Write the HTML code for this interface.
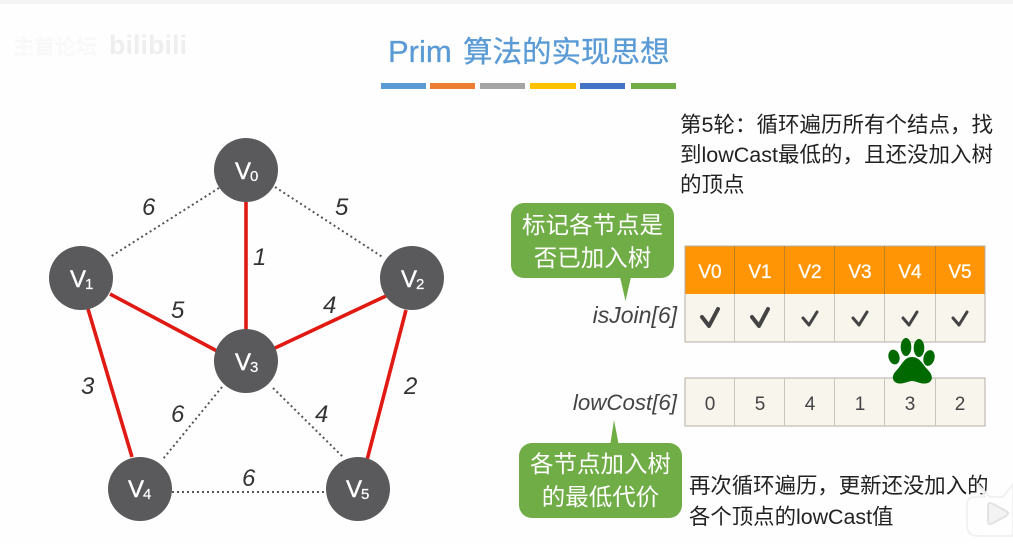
<!DOCTYPE html>
<html><head><meta charset="utf-8">
<style>
html,body{margin:0;padding:0;background:#fefefe;width:1013px;height:544px;overflow:hidden}
svg{display:block;font-family:"Liberation Sans","Noto Sans CJK SC",sans-serif;filter:blur(.35px)}
.n{fill:#fff;font-size:24px;stroke:#fff;stroke-width:.4px}
.s{fill:#fff;font-size:15px;stroke:#fff;stroke-width:.2px}
.w{font-style:italic;font-size:24px;fill:#333}
.h{fill:#fff;font-size:19px;text-anchor:middle;stroke:#fff;stroke-width:.3px}
.c{fill:#444;font-size:19px;text-anchor:middle}
.t{fill:#222;font-size:21.500px}
.b{fill:#fff;font-size:23.500px;text-anchor:middle}
.l{font-style:italic;fill:#444;text-anchor:end}
.chk{fill:none;stroke:#444;stroke-linecap:round;stroke-linejoin:round}
</style></head><body>
<svg width="1013" height="544" viewBox="0 0 1013 544" xmlns="http://www.w3.org/2000/svg">
<rect width="1013" height="544" fill="#fefefe"/>
<rect width="1013" height="4" fill="#f4f4f5"/>
<text x="13" y="54" font-size="21" fill="#fbfbfb" stroke="#f3f3f3" stroke-width=".4">主首论坛</text>
<text x="109" y="54" font-size="27" font-weight="bold" fill="#eeeeee" textLength="78" lengthAdjust="spacingAndGlyphs">bilibili</text>

<text x="388" y="62" font-size="31" fill="#5b9bd5" stroke="#5b9bd5" stroke-width=".3">Prim</text>
<text x="463" y="62" font-size="29.500" fill="#5b9bd5" stroke="#5b9bd5" stroke-width=".3">算法的实现思想</text>
<g>
<rect x="381" y="83" width="45" height="6" fill="#5b9bd5"/>
<rect x="430" y="83" width="45" height="6" fill="#ed7d31"/>
<rect x="480" y="83" width="45" height="6" fill="#a5a5a5"/>
<rect x="530" y="83" width="46" height="6" fill="#ffc000"/>
<rect x="580" y="83" width="45" height="6" fill="#4472c4"/>
<rect x="631" y="83" width="45" height="6" fill="#70ad47"/>
</g>

<g stroke="#555" stroke-width="2" stroke-dasharray="2 3" fill="none">
<line x1="219" y1="188" x2="110" y2="257"/>
<line x1="275" y1="187" x2="384" y2="258"/>
<line x1="222" y1="387" x2="163" y2="459"/>
<line x1="273" y1="388" x2="344" y2="458"/>
<line x1="172" y1="492" x2="326" y2="492"/>
</g>
<g stroke="#e01a12" stroke-width="3.600" fill="none">
<line x1="246" y1="202" x2="246" y2="329"/>
<line x1="110" y1="294" x2="217" y2="351"/>
<line x1="275" y1="348" x2="386" y2="296"/>
<line x1="88" y1="309" x2="132" y2="457"/>
<line x1="406" y1="310" x2="367" y2="460"/>
</g>
<g fill="#5a5a5c">
<circle cx="246" cy="170" r="32"/>
<circle cx="81" cy="278" r="32"/>
<circle cx="412" cy="278" r="32"/>
<circle cx="246" cy="361" r="32"/>
<circle cx="140" cy="489" r="32"/>
<circle cx="358" cy="489" r="32"/>
</g>
<text class="n" x="235" y="179">V</text><text class="s" x="250" y="181">0</text>
<text class="n" x="70" y="287">V</text><text class="s" x="85" y="289">1</text>
<text class="n" x="401" y="287">V</text><text class="s" x="416" y="289">2</text>
<text class="n" x="235" y="370">V</text><text class="s" x="250" y="372">3</text>
<text class="n" x="128" y="497">V</text><text class="s" x="143" y="499">4</text>
<text class="n" x="346" y="497">V</text><text class="s" x="361" y="499">5</text>

<text class="w" x="142" y="215">6</text>
<text class="w" x="335" y="215">5</text>
<text class="w" x="253" y="265">1</text>
<text class="w" x="171" y="318">5</text>
<text class="w" x="323" y="313">4</text>
<text class="w" x="81" y="394">3</text>
<text class="w" x="404" y="394">2</text>
<text class="w" x="171" y="422">6</text>
<text class="w" x="315" y="422">4</text>
<text class="w" x="242" y="486">6</text>

<text class="t" x="680" y="132">第5轮：循环遍历所有个结点，找</text>
<text class="t" x="680" y="162">到lowCast最低的，且还没加入树</text>
<text class="t" x="680" y="192">的顶点</text>

<rect x="511" y="203" width="163" height="75" rx="13" fill="#70ad47"/>
<polygon points="620,277 631,277 625.500,301" fill="#70ad47"/>
<text class="b" x="592.500" y="233">标记各节点是</text>
<text class="b" x="592.500" y="266">否已加入树</text>

<text class="l" x="677" y="323" font-size="23">isJoin[6]</text>
<text class="l" x="677" y="410" font-size="22.300">lowCost[6]</text>

<rect x="685" y="246" width="300" height="48" fill="#ff9505"/>
<rect x="685" y="294" width="300" height="48" fill="#f8f5ec"/>
<rect x="685" y="378" width="300" height="48" fill="#f8f5ec"/>
<g stroke="#b5b0a8" stroke-width="1" fill="none">
<rect x="685" y="246" width="300" height="96"/>
<rect x="685" y="378" width="300" height="48"/>
</g>
<g stroke="#c08020" stroke-width="1">
<line x1="734.500" y1="246" x2="734.500" y2="294"/><line x1="784.500" y1="246" x2="784.500" y2="294"/><line x1="834.500" y1="246" x2="834.500" y2="294"/><line x1="884.500" y1="246" x2="884.500" y2="294"/><line x1="935.500" y1="246" x2="935.500" y2="294"/>
</g>
<g stroke="#c8c5bd" stroke-width="1">
<line x1="734.500" y1="294" x2="734.500" y2="342"/><line x1="784.500" y1="294" x2="784.500" y2="342"/><line x1="834.500" y1="294" x2="834.500" y2="342"/><line x1="884.500" y1="294" x2="884.500" y2="342"/><line x1="935.500" y1="294" x2="935.500" y2="342"/>
<line x1="734.500" y1="378" x2="734.500" y2="426"/><line x1="784.500" y1="378" x2="784.500" y2="426"/><line x1="834.500" y1="378" x2="834.500" y2="426"/><line x1="884.500" y1="378" x2="884.500" y2="426"/><line x1="935.500" y1="378" x2="935.500" y2="426"/>
</g>
<text class="h" x="710" y="278">V0</text><text class="h" x="760" y="278">V1</text><text class="h" x="810" y="278">V2</text><text class="h" x="860" y="278">V3</text><text class="h" x="910" y="278">V4</text><text class="h" x="960" y="278">V5</text>

<path class="chk" stroke-width="4" d="M702 317 L709 326 L718 309"/>
<path class="chk" stroke-width="4" d="M752 317 L759 326 L768 309"/>
<path class="chk" stroke-width="3" d="M803 318 L809 325 L817 312"/>
<path class="chk" stroke-width="3" d="M853 318 L859 325 L867 312"/>
<path class="chk" stroke-width="3" d="M903 318 L909 325 L917 312"/>
<path class="chk" stroke-width="3" d="M953 318 L959 325 L967 312"/>

<text class="c" x="710" y="410">0</text><text class="c" x="760" y="410">5</text><text class="c" x="810" y="410">4</text><text class="c" x="860" y="410">1</text><text class="c" x="910" y="410">3</text><text class="c" x="960" y="410">2</text>

<g fill="#006a00">
<ellipse cx="894" cy="357" rx="5.500" ry="7.500" transform="rotate(-15 894 357)"/>
<ellipse cx="906" cy="347" rx="5.300" ry="9"/>
<ellipse cx="919" cy="348" rx="5.300" ry="9"/>
<ellipse cx="929" cy="358" rx="5.500" ry="8" transform="rotate(15 929 358)"/>
<path d="M912 357 C904 357 902 365 896 371 C890 377 893 384 901 383.500 C906 383 909 381 912 381 C916 381 920 384 925 383.500 C933 383 934 376 928 370 C923 365 920 357 912 357 Z"/>
</g>

<polygon points="610,446 619,446 614,420" fill="#70ad47"/>
<rect x="519" y="443" width="163" height="75" rx="13" fill="#70ad47"/>
<text class="b" x="600.500" y="472">各节点加入树</text>
<text class="b" x="600.500" y="505">的最低代价</text>

<text class="t" x="689" y="493" style="font-size:21.400px">再次循环遍历，更新还没加入的</text>
<text class="t" x="689" y="524" style="font-size:21.400px">各个顶点的lowCast值</text>

<path d="M967 505 Q967 497 975 497 L985 497 L978 484 L990 497 L1003 497 L1013 484 L1013 536 L978 536 Q967 536 967 525 Z" fill="#fefefe" fill-opacity=".85" stroke="#eeeeee" stroke-width="1.500"/>
<path d="M988 506 Q988 501 993 504 L1006 511 Q1010 513 1006 516 L993 523 Q988 526 988 520 Z" fill="#f3f3f3" stroke="#e2e2e2" stroke-width="2"/>
</svg>
</body></html>
